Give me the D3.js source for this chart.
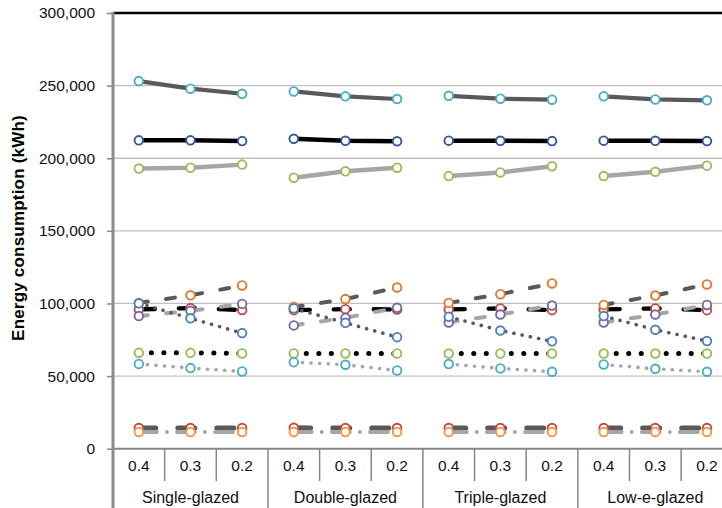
<!DOCTYPE html>
<html>
<head>
<meta charset="utf-8">
<script src="https://cdn.jsdelivr.net/npm/d3@7"></script>
<style>
  html, body { margin: 0; padding: 0; background: #fff; }
  svg { display: block; font-family: "Liberation Sans", Arial, sans-serif; }
</style>
</head>
<body>
<svg id="chart" width="722" height="508"></svg>
<script>
// Glazing types and window-to-wall ratios along the x axis
const groups = ["Single-glazed", "Double-glazed", "Triple-glazed", "Low-e-glazed"];
const ratios = ["0.4", "0.3", "0.2"];
const yTicks = [0, 50000, 100000, 150000, 200000, 250000, 300000];

// Upper band (solid lines)
const solidDark  = [253100, 247900, 244400, 246000, 242600, 240800, 243000, 241000, 240300, 242600, 240500, 239900];
const solidBlack = [212300, 212300, 211800, 213400, 212000, 211700, 212100, 212000, 211800, 212100, 212000, 211800];
const solidLight = [192900, 193500, 195600, 186600, 191000, 193500, 187700, 190200, 194500, 187700, 190700, 194900];

// Middle band (dashed and dotted lines)
const dashDark   = [100400, 105600, 112400,  97500, 103000, 111000, 100400, 106400, 113800,  99000, 105500, 113100];
const dashBlack  = [ 95900,  96800,  95500,  95400,  96100,  95900,  95900,  96600,  95400,  95900,  96600,  95400];
const dashLight  = [ 91300,  94900,  99700,  84900,  90100,  97000,  86900,  92400,  98600,  86900,  92400,  99000];
const dotDark    = [100100,  89800,  79600,  96600,  86700,  76800,  90800,  81400,  73900,  91300,  81900,  74100];
const dotBlack   = [ 66000,  66000,  65600,  65600,  65600,  65600,  65500,  65500,  65500,  65500,  65500,  65500];
const dotLight   = [ 58400,  55500,  53200,  59600,  57800,  53900,  58300,  55300,  53000,  58000,  55000,  53000];

// Lower band (long-dash and dash-dot lines)
const lowDark    = [ 14200,  14200,  14200,  14400,  14200,  14200,  14200,  14200,  14200,  14200,  14200,  14200];
const lowLight   = [ 11500,  11500,  11500,  11500,  11500,  11500,  11500,  11500,  11500,  11500,  11500,  11500];

// Drawing styles, in drawing order (later series sit on top)
const seriesList = [
  { values: lowDark,    line: "#595959", width: 5,   dash: "17 22",        marker: "#BE4B48" },
  { values: lowLight,   line: "#A6A6A6", width: 3.8, dash: "18 10 0.1 10", marker: "#F79646" },
  { values: solidDark,  line: "#595959", width: 4.2, dash: null,           marker: "#4BACC6" },
  { values: solidBlack, line: "#000000", width: 4.5, dash: null,           marker: "#31589C" },
  { values: solidLight, line: "#A6A6A6", width: 4.5, dash: null,           marker: "#9BBB59" },
  { values: dashBlack,  line: "#000000", width: 4.4, dash: "16 24",        marker: "#BE4B48" },
  { values: dashDark,   line: "#595959", width: 4,   dash: "9 18.5",       marker: "#E0782E" },
  { values: dashLight,  line: "#A6A6A6", width: 4,   dash: "9 18.5",       marker: "#8064A2" },
  { values: dotBlack,   line: "#000000", width: 5,   dash: "0.1 12.4",     marker: "#9BBB59" },
  { values: dotLight,   line: "#A6A6A6", width: 3.6, dash: "0.1 8.5",      marker: "#4BACC6" },
  { values: dotDark,    line: "#595959", width: 3.6, dash: "0.1 8.3",      marker: "#4F81BD" }
];

const svg = d3.select("#chart");
const plotLeft = 113, plotTop = 13, plotBottom = 448.7;
const bandW = 51.65;
const cats = d3.range(groups.length * ratios.length);

const x = d3.scaleBand().domain(cats).range([plotLeft, plotLeft + bandW * cats.length]).padding(0);
const y = d3.scaleLinear().domain([0, 300000]).range([plotBottom, plotTop]);
const cx = i => x(i) + x.bandwidth() / 2;
const rightEdge = 722;

// Horizontal gridlines
svg.append("g")
  .selectAll("line")
  .data(yTicks.filter(v => v > 0 && v < 300000))
  .join("line")
  .attr("x1", plotLeft).attr("x2", rightEdge)
  .attr("y1", d => y(d)).attr("y2", d => y(d))
  .attr("stroke", "#C0C0C0").attr("stroke-width", 1.3);

// Top border of the plot
svg.append("line")
  .attr("x1", plotLeft).attr("x2", rightEdge)
  .attr("y1", y(300000)).attr("y2", y(300000))
  .attr("stroke", "#000").attr("stroke-width", 2.6);

// Y axis
const yAxis = svg.append("g")
  .attr("transform", `translate(${plotLeft},0)`)
  .call(d3.axisLeft(y).tickValues(yTicks).tickFormat(d3.format(",")).tickSize(6).tickPadding(12));
yAxis.select(".domain").remove();
yAxis.selectAll(".tick line").attr("stroke", "#868686").attr("stroke-width", 1.5);
yAxis.selectAll(".tick text").attr("font-size", 15.5).attr("fill", "#111")
  .attr("font-family", "'Liberation Sans', Arial, sans-serif");

// Y axis title
svg.append("text")
  .attr("transform", `translate(24,228) rotate(-90)`)
  .attr("text-anchor", "middle")
  .attr("font-size", 17).attr("font-weight", "bold")
  .attr("letter-spacing", 0.2)
  .attr("fill", "#000")
  .text("Energy consumption (kWh)");

// X axis: baseline, category separators and labels
svg.append("line")
  .attr("x1", plotLeft).attr("x2", rightEdge)
  .attr("y1", plotBottom).attr("y2", plotBottom)
  .attr("stroke", "#868686").attr("stroke-width", 2);

const seps = d3.range(1, cats.length).filter(i => i % ratios.length !== 0);
svg.append("g").selectAll("line").data(seps).join("line")
  .attr("x1", d => x(d)).attr("x2", d => x(d))
  .attr("y1", plotBottom).attr("y2", 481)
  .attr("stroke", "#868686").attr("stroke-width", 1.5);

const groupSeps = d3.range(1, groups.length).map(g => g * ratios.length);
svg.append("g").selectAll("line").data(groupSeps).join("line")
  .attr("x1", d => x(d)).attr("x2", d => x(d))
  .attr("y1", plotBottom).attr("y2", 508)
  .attr("stroke", "#868686").attr("stroke-width", 1.5);

// Y axis line (drawn over the baseline)
svg.append("line")
  .attr("x1", plotLeft).attr("x2", plotLeft)
  .attr("y1", plotTop - 1).attr("y2", 508)
  .attr("stroke", "#8C8C8C").attr("stroke-width", 3);

svg.append("g").selectAll("text").data(cats).join("text")
  .attr("x", d => cx(d)).attr("y", 471)
  .attr("text-anchor", "middle")
  .attr("font-size", 15.5).attr("fill", "#111")
  .text(d => ratios[d % ratios.length]);

svg.append("g").selectAll("text").data(groups).join("text")
  .attr("x", (d, g) => (x(g * ratios.length) + x(g * ratios.length + ratios.length - 1) + x.bandwidth()) / 2)
  .attr("y", 502.5)
  .attr("text-anchor", "middle")
  .attr("font-size", 16).attr("fill", "#111")
  .text(d => d);

// Series: one line segment per glazing type, then open circle markers
const line = d3.line().x(d => cx(d.i)).y(d => y(d.v));
const plot = svg.append("g");

seriesList.forEach(s => {
  const g = plot.append("g");
  groups.forEach((_, gi) => {
    const pts = ratios.map((_, k) => {
      const i = gi * ratios.length + k;
      return { i, v: s.values[i] };
    });
    g.append("path")
      .attr("d", line(pts))
      .attr("fill", "none")
      .attr("stroke", s.line)
      .attr("stroke-width", s.width)
      .attr("stroke-linecap", "round")
      .attr("stroke-linejoin", "round")
      .attr("stroke-dasharray", s.dash);
  });
  g.selectAll("circle")
    .data(s.values.map((v, i) => ({ i, v })))
    .join("circle")
    .attr("cx", d => cx(d.i)).attr("cy", d => y(d.v))
    .attr("r", 4.3)
    .attr("fill", "#fff")
    .attr("stroke", s.marker)
    .attr("stroke-width", 1.9);
});
</script>
</body>
</html>
